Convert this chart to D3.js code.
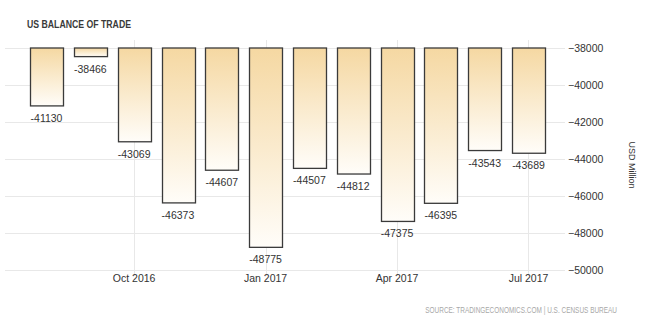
<!DOCTYPE html>
<html>
<head>
<meta charset="utf-8">
<script src="https://cdn.jsdelivr.net/npm/d3@7"></script>
<style>
  html, body { margin: 0; padding: 0; background: #fff; }
  svg { display: block; font-family: "Liberation Sans", sans-serif; }
</style>
</head>
<body>
<svg id="chart" width="651" height="331"></svg>
<script>
const months = ["Aug 2016","Sep 2016","Oct 2016","Nov 2016","Dec 2016","Jan 2017","Feb 2017","Mar 2017","Apr 2017","May 2017","Jun 2017","Jul 2017"];
const balance = [-41130,-38466,-43069,-46373,-44607,-48775,-44507,-44812,-47375,-46395,-43543,-43689];
const xTickLabels = ["Oct 2016","Jan 2017","Apr 2017","Jul 2017"];
const yTicks = [-38000,-40000,-42000,-44000,-46000,-48000,-50000];

const svg = d3.select("#chart");
const FONT = "Liberation Sans, Arial, sans-serif";

const x = d3.scaleBand().domain(months).range([24.6, 550.4]).paddingInner(0.25).paddingOuter(0.125);
const y = d3.scaleLinear().domain([-50000, -38000]).range([270, 48]);

// gradient
const defs = svg.append("defs");
const grad = defs.append("linearGradient").attr("id", "barGrad")
  .attr("x1", 0).attr("y1", 0).attr("x2", 0).attr("y2", 1);
grad.append("stop").attr("offset", "0%").attr("stop-color", "#f5d8a2");
grad.append("stop").attr("offset", "100%").attr("stop-color", "#fffdf9");

// horizontal grid
svg.append("g").selectAll("line").data(yTicks).join("line")
  .attr("x1", 5).attr("x2", 565)
  .attr("y1", d => Math.round(y(d)) + 0.5).attr("y2", d => Math.round(y(d)) + 0.5)
  .attr("stroke", "#e8e8e8").attr("stroke-width", 1);

// vertical grid
svg.append("g").selectAll("line").data(xTickLabels).join("line")
  .attr("x1", d => Math.round(x(d) + x.bandwidth() / 2) + 0.5)
  .attr("x2", d => Math.round(x(d) + x.bandwidth() / 2) + 0.5)
  .attr("y1", 40).attr("y2", 276)
  .attr("stroke", "#e8e8e8").attr("stroke-width", 1);

// bars
const top0 = y(-38000);
svg.append("g").selectAll("rect").data(months).join("rect")
  .attr("x", d => Math.round(x(d)) + 0.5)
  .attr("y", top0)
  .attr("width", Math.round(x.bandwidth()))
  .attr("height", (d, i) => y(balance[i]) - top0)
  .attr("fill", "url(#barGrad)")
  .attr("stroke", "#3a3a3a")
  .attr("stroke-width", 1.3);

// value labels
svg.append("g").selectAll("text").data(months).join("text")
  .attr("x", d => x(d) + x.bandwidth() / 2)
  .attr("y", (d, i) => y(balance[i]) + 16)
  .attr("text-anchor", "middle")
  .attr("font-size", 10.5)
  .attr("fill", "#333")
  .text((d, i) => balance[i]);

// y axis labels (right)
const yAxis = d3.axisRight(y).tickValues(yTicks).tickSize(0).tickPadding(0).tickFormat(d3.format("d"));
const gy = svg.append("g").attr("transform", "translate(568,0)").call(yAxis);
gy.select(".domain").remove();
gy.selectAll("text").attr("font-size", 10.5).attr("fill", "#333").attr("font-family", FONT);

// x axis labels
const xAxis = d3.axisBottom(x).tickValues(xTickLabels).tickSize(0).tickPadding(0);
const gx = svg.append("g").attr("transform", "translate(0,275)").call(xAxis);
gx.select(".domain").remove();
gx.selectAll("text").attr("font-size", 10.5).attr("fill", "#333").attr("font-family", FONT);

// title
svg.append("text").attr("x", 27).attr("y", 28)
  .attr("font-size", 11).attr("font-weight", "bold").attr("fill", "#3a3a3a")
  .attr("textLength", 104).attr("lengthAdjust", "spacingAndGlyphs")
  .text("US BALANCE OF TRADE");

// unit label
svg.append("text")
  .attr("transform", "translate(629,165) rotate(90)")
  .attr("text-anchor", "middle")
  .attr("font-size", 9).attr("fill", "#333")
  .text("USD Million");

// source (condensed horizontally to the reference width)
const src = svg.append("text")
  .attr("x", 0).attr("y", 0)
  .attr("text-anchor", "end")
  .attr("font-size", 9.5).attr("fill", "#a8a8a8")
  .text("SOURCE: TRADINGECONOMICS.COM | U.S. CENSUS BUREAU");
const srcW = src.node().getComputedTextLength();
const sx = Math.min(1, 192 / srcW);
src.attr("transform", `translate(617,312.5) scale(${sx},1)`);
</script>
</body>
</html>
